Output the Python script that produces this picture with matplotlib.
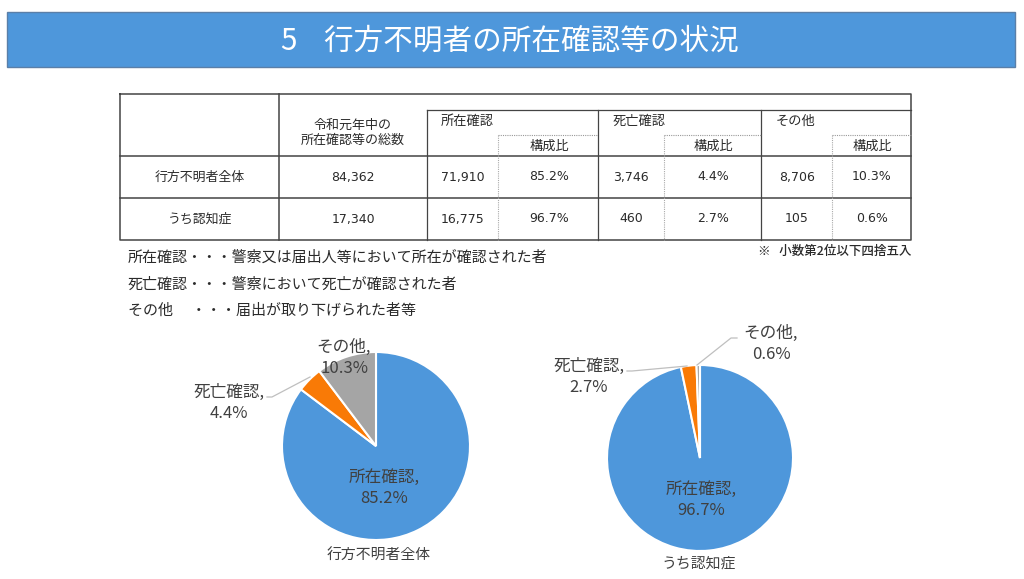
import numpy as np
import matplotlib
matplotlib.use('Agg')
import matplotlib.pyplot as plt
from matplotlib.patches import Rectangle

plt.rcParams['font.family'] = ['Noto Sans CJK JP', 'DejaVu Sans']

W, H = 1024, 579

title = "5    行方不明者の所在確認等の状況"
categories = ["所在確認", "死亡確認", "その他"]
row_names = ["行方不明者全体", "うち認知症"]
totals = ["84,362", "17,340"]
found = ["71,910", "16,775"]
found_pct = ["85.2%", "96.7%"]
dead = ["3,746", "460"]
dead_pct = ["4.4%", "2.7%"]
other = ["8,706", "105"]
other_pct = ["10.3%", "0.6%"]
notes = ["所在確認・・・警察又は届出人等において所在が確認された者",
         "死亡確認・・・警察において死亡が確認された者",
         "その他　 ・・・届出が取り下げられた者等"]
footnote = "※   小数第2位以下四捨五入"

pie_all = [85.2, 4.4, 10.3]
pie_dementia = [96.7, 2.7, 0.6]
pie_colors = ['#4E97DB', '#F97A06', '#A5A5A5']

fig = plt.figure(figsize=(W / 100, H / 100), dpi=100, facecolor='white')

# page axes in pixel units, y going down like the screenshot
page = fig.add_axes([0, 0, 1, 1])
page.set_xlim(0, W)
page.set_ylim(H, 0)
page.axis('off')

page.add_patch(Rectangle((7, 12), 1008, 55, fc='#4E97DB', ec='#5A7FA8', lw=1))
page.text(510, 41, title, color='white', fontsize=21.3, ha='center', va='center')

# table grid
dark = '#444444'
page.plot([120, 911, 911, 120, 120], [94, 94, 240, 240, 94], color=dark, lw=1.1)
for y in [156, 198]:
    page.plot([120, 911], [y, y], color=dark, lw=1.1)
page.plot([427, 911], [110, 110], color=dark, lw=0.9)
page.plot([279, 279], [94, 240], color=dark, lw=1.1)
for x in [427, 598, 761]:
    page.plot([x, x], [110, 240], color=dark, lw=0.9)
for x0, x1 in [(498, 598), (664, 761), (832, 911)]:
    page.plot([x0, x1], [135, 135], color='#999999', lw=0.8, ls=(0, (1, 1)))
    page.plot([x0, x0], [135, 240], color='#AAAAAA', lw=0.8, ls=(0, (1, 1)))

txt = '#2A2A2A'
num_font = ['DejaVu Sans', 'Noto Sans CJK JP']
page.text(353, 125, "令和元年中の", fontsize=9.4, color=txt, ha='center', va='center')
page.text(353, 140, "所在確認等の総数", fontsize=9.4, color=txt, ha='center', va='center')
for x, name in zip([441, 613, 776], categories):
    page.text(x, 121, name, fontsize=9.5, color=txt, ha='left', va='center')
for x in [549, 713, 872]:
    page.text(x, 146, "構成比", fontsize=9.5, color=txt, ha='center', va='center')

for i, y in enumerate([177, 219]):
    page.text(200, y, row_names[i], fontsize=9.3, color=txt, ha='center', va='center')
    cells = [(353, totals[i]), (463, found[i]), (549, found_pct[i]), (631, dead[i]),
             (713, dead_pct[i]), (797, other[i]), (872, other_pct[i])]
    for x, s in cells:
        page.text(x, y, s, fontsize=9, color=txt, ha='center', va='center', family=num_font)

page.text(911, 251, footnote, fontsize=9, color=txt, ha='right', va='center', fontweight='medium')
for y, s in zip([258, 285, 311], notes):
    page.text(128, y, s, fontsize=10.8, color=txt, ha='left', va='center')


def draw_pie(cx, cy, r, values):
    ax = fig.add_axes([(cx - r) / W, 1 - (cy + r) / H, 2 * r / W, 2 * r / H])
    ax.pie(values, colors=pie_colors, startangle=90, counterclock=False, radius=1,
           wedgeprops={'edgecolor': 'white', 'linewidth': 1.5})
    ax.set_xlim(-1, 1)
    ax.set_ylim(-1, 1)
    ax.patch.set_alpha(0)


draw_pie(376, 446, 94, pie_all)
draw_pie(700, 458, 93, pie_dementia)

# pie labels sit on top of the pies
page.set_zorder(5)
grey = '#404040'
lab = dict(fontsize=12, color=grey, ha='center', va='center', linespacing=1.32)
page.text(384, 488, f"{categories[0]},\n{pie_all[0]}%", **lab)
page.text(229, 403, f"{categories[1]},\n{pie_all[1]}%", **lab)
page.text(344, 358, f"{categories[2]},\n{pie_all[2]}%", **lab)
page.text(701, 500, f"{categories[0]},\n{pie_dementia[0]}%", **lab)
page.text(589, 377, f"{categories[1]},\n{pie_dementia[1]}%", **lab)
page.text(771, 344, f"{categories[2]},\n{pie_dementia[2]}%", **lab)

# leader lines
leader = dict(color='#BFBFBF', lw=0.9)
page.plot([267, 272, 310], [397, 397, 377], **leader)
page.plot([627, 632, 687], [371, 371, 366], **leader)
page.plot([737, 731, 697], [338, 338, 365], **leader)

page.text(379, 556, row_names[0], fontsize=10.7, color=grey, ha='center', va='center')
page.text(699, 564, row_names[1], fontsize=10.7, color=grey, ha='center', va='center')

fig.savefig('out.png', dpi=100)
